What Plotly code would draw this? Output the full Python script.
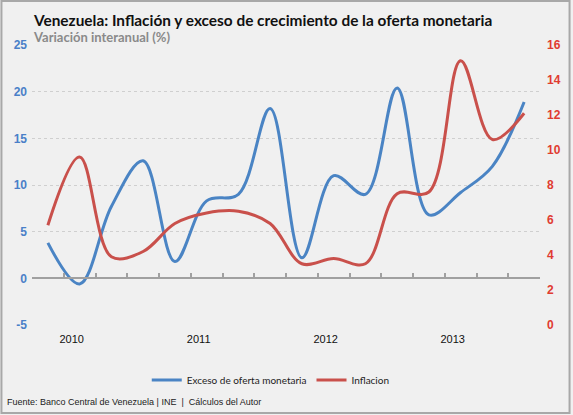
import plotly.graph_objects as go

# ---- data ----
quarters = list(range(16))  # 2010Q1 .. 2013Q4
exceso = [3.8, -0.6, 7.7, 12.6, 1.8, 8.3, 9.0, 18.2, 2.2, 11.0, 9.0, 20.4, 6.8, 9.2, 12.0, 18.9]
inflacion = [5.7, 9.6, 3.9, 4.2, 5.8, 6.4, 6.5, 5.8, 3.5, 3.8, 3.5, 7.5, 7.6, 15.1, 10.6, 12.1]
year_labels = ["2010", "2011", "2012", "2013"]
year_pos = [0.75, 4.75, 8.75, 12.75]
left_ticks = [-5, 0, 5, 10, 15, 20, 25]
left_ticktext = ["-5", "0", "5", "10", "15", "20", "25"]
boundaries = [i - 0.5 for i in range(17)]

BLUE = "#4a84c4"
RED = "#c9504b"
BLUE_T = "#4a80c8"
RED_T = "#e03c31"

fig = go.Figure()
fig.add_trace(go.Scatter(x=quarters, y=exceso, name="Exceso de oferta monetaria",
                         mode="lines", line=dict(color=BLUE, width=3, shape="spline", smoothing=1),
                         xaxis="x", yaxis="y"))
fig.add_trace(go.Scatter(x=quarters, y=inflacion, name="Inflacion",
                         mode="lines", line=dict(color=RED, width=3, shape="spline", smoothing=1),
                         xaxis="x", yaxis="y2"))

L, R, T, B = 31.7, 30.7, 45, 90
fig.update_layout(
    width=573, height=415,
    margin=dict(l=L, r=R, t=T, b=B, pad=0),
    paper_bgcolor="#f0f0f0", plot_bgcolor="#f0f0f0",
    font=dict(family="Liberation Sans, Arial, sans-serif", size=11, color="#222"),
    showlegend=True,
    legend=dict(orientation="h", x=0.47, xanchor="center", y=-0.196, yanchor="middle",
                font=dict(family="Lato, sans-serif", size=10, color="#222"), bgcolor="rgba(0,0,0,0)",
                itemwidth=30, tracegroupgap=0),
    xaxis=dict(range=[-0.5, 15.5], anchor="free", position=5 / 30,
               showline=True, linecolor="#a0a0a0", linewidth=1.5,
               tickmode="array", tickvals=boundaries, ticks="inside", ticklen=5,
               tickcolor="#a0a0a0", tickwidth=1.5,
               showticklabels=False, showgrid=False, zeroline=False, fixedrange=True),
    xaxis2=dict(range=[-0.5, 15.5], overlaying="x", anchor="y", side="bottom",
                tickmode="array", tickvals=year_pos, ticktext=year_labels,
                ticks="", showline=False, showgrid=False, zeroline=False,
                ticklabelstandoff=6,
                tickfont=dict(size=11, color="#111")),
    yaxis=dict(range=[-5, 25], tickmode="array", tickvals=left_ticks, ticktext=left_ticktext,
               showgrid=True, gridcolor="#cfcfcf", griddash="dot", gridwidth=1,
               zeroline=False, showline=False, ticks="",
               ticklabelstandoff=4,
               tickfont=dict(size=12, color=BLUE_T, family="Liberation Sans, Arial, sans-serif", weight="bold")),
    yaxis2=dict(range=[0, 16], overlaying="y", side="right", anchor="x",
                tickmode="linear", tick0=0, dtick=2, showgrid=False, zeroline=False,
                showline=False, ticks="", ticklabelstandoff=6,
                tickfont=dict(size=12, color=RED_T, family="Liberation Sans, Arial, sans-serif", weight="bold")),
)

# dummy trace to activate xaxis2
fig.add_trace(go.Scatter(x=[None], y=[None], xaxis="x2", yaxis="y", showlegend=False, hoverinfo="skip"))

fig.add_annotation(text="<b>Venezuela: Inflación y exceso de crecimiento de la oferta monetaria</b>",
                   xref="paper", yref="paper", x=(31 - L) / 510.6, y=(325 - 20) / 280,
                   xanchor="left", yanchor="middle", showarrow=False,
                   font=dict(family="Lato, sans-serif", size=15.4, color="#111"))
fig.add_annotation(text="<b>Variación interanual (%)</b>",
                   xref="paper", yref="paper", x=(31 - L) / 510.6, y=(325 - 37) / 280,
                   xanchor="left", yanchor="middle", showarrow=False,
                   font=dict(family="Lato, sans-serif", size=13, color="#8a8a8a"))
fig.add_annotation(text="Fuente: Banco Central de Venezuela | INE  |  Cálculos del Autor",
                   xref="paper", yref="paper", x=(5 - L) / 510.6, y=(325 - 402) / 280,
                   xanchor="left", yanchor="middle", showarrow=False,
                   font=dict(size=9, color="#222"))

fig.add_shape(type="rect", xref="paper", yref="paper",
              x0=(1 - L) / 510.6, x1=(572 - L) / 510.6, y0=(325 - 413) / 280, y1=(325 - 1) / 280,
              line=dict(color="#a8a8a8", width=2), fillcolor="rgba(0,0,0,0)", layer="below")

fig.write_html("out.html", config={"displayModeBar": False},
               post_script="document.body.style.margin='0';document.body.style.padding='0';"
                           "document.body.style.overflow='hidden';")
